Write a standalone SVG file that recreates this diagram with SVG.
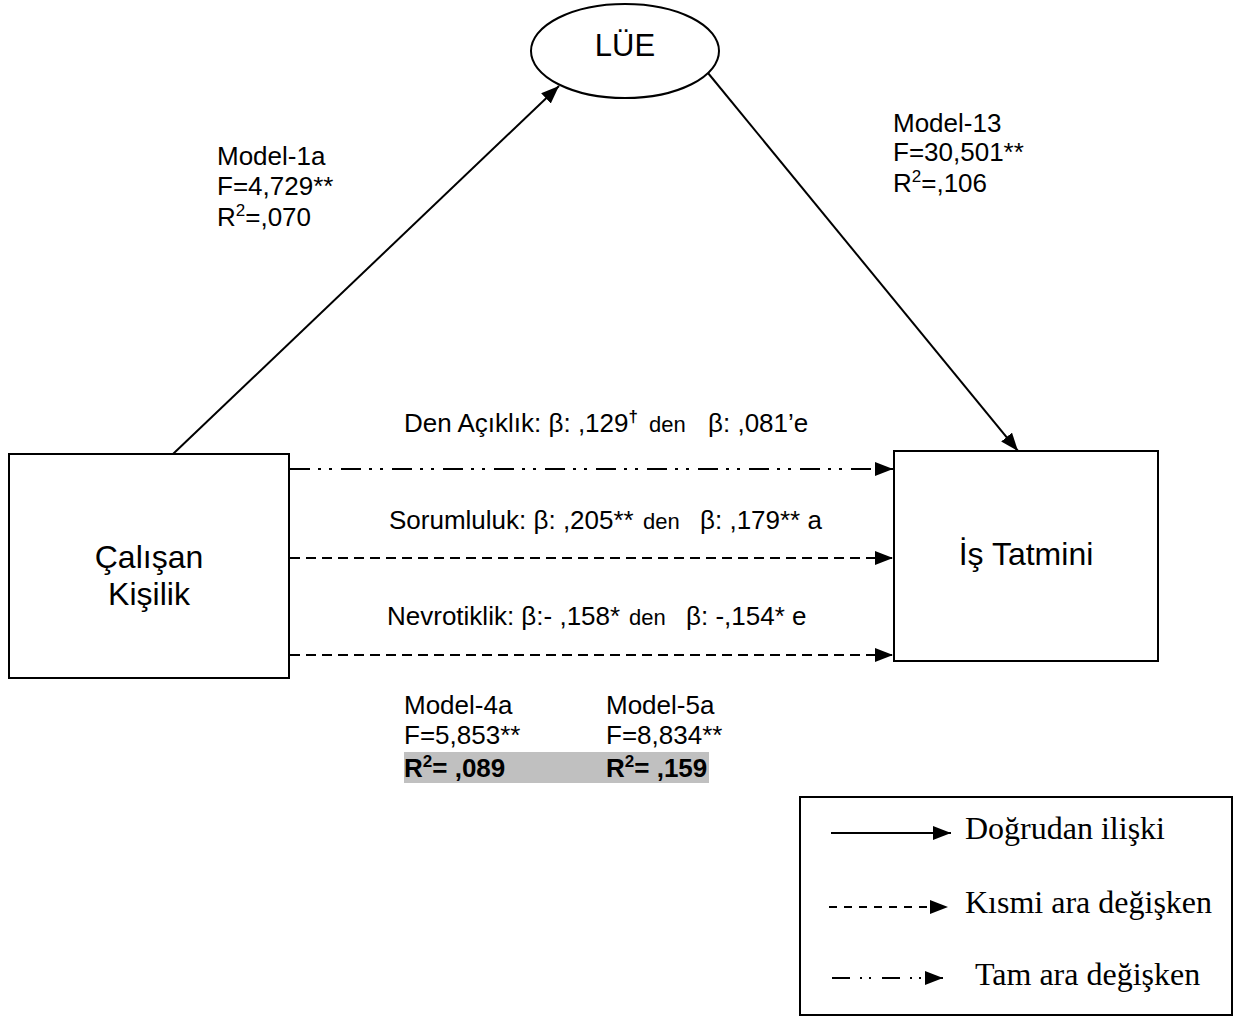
<svg xmlns="http://www.w3.org/2000/svg" width="1236" height="1017" viewBox="0 0 1236 1017">
  <style>
    .sans { font-family: "Liberation Sans", Arial, sans-serif; fill: #000; }
    .serif { font-family: "Liberation Serif", "Times New Roman", serif; fill: #000; font-size: 32px; }
    .lbl { font-size: 26px; }
    .big { font-size: 32px; }
    .small { font-size: 22px; }
    .sup { font-size: 17px; }
    .box { fill: #fff; stroke: #000; stroke-width: 2; }
    .edge { fill: none; stroke: #000; stroke-width: 2; }
    .dash { stroke-dasharray: 10 6; }
    .legdash { stroke-dasharray: 8 7; }
    .dashdot { stroke-dasharray: 20 8 3 8 3 9; }
    .legdashdot { stroke-dasharray: 18 10 2 7 2 11; }
  </style>
  <defs>
    <marker id="arrow" markerUnits="userSpaceOnUse" markerWidth="18" markerHeight="14" refX="18" refY="7" orient="auto">
      <path d="M0,0 L18,7 L0,14 z" fill="#000"/>
    </marker>
  </defs>

  <rect width="1236" height="1017" fill="#fff"/>

  <!-- connectors -->
  <g id="connectors">
    <line class="edge" x1="173" y1="454" x2="559" y2="86" marker-end="url(#arrow)"/>
    <line class="edge" x1="708" y1="73" x2="1018" y2="451" marker-end="url(#arrow)"/>
    <line class="edge dashdot" x1="290" y1="469" x2="893" y2="469" marker-end="url(#arrow)"/>
    <line class="edge dash" x1="290" y1="558" x2="893" y2="558" marker-end="url(#arrow)"/>
    <line class="edge dash" x1="290" y1="655" x2="893" y2="655" marker-end="url(#arrow)"/>
  </g>

  <!-- nodes -->
  <g id="node-lue">
    <ellipse class="box" cx="625" cy="51" rx="94" ry="47"/>
    <text class="sans" x="625" y="56" font-size="31" text-anchor="middle">LÜE</text>
  </g>

  <g id="node-calisan">
    <rect class="box" x="9" y="454" width="280" height="224"/>
    <text class="sans big" x="149" y="568" text-anchor="middle">Çalışan</text>
    <text class="sans big" x="149" y="605" text-anchor="middle">Kişilik</text>
  </g>

  <g id="node-tatmin">
    <rect class="box" x="894" y="451" width="264" height="210"/>
    <text class="sans big" x="1026" y="565" text-anchor="middle">İş Tatmini</text>
  </g>

  <!-- path statistics -->
  <g id="stats-model1a" class="sans lbl">
    <text x="217" y="165">Model-1a</text>
    <text x="217" y="195">F=4,729**</text>
    <text x="217" y="226">R<tspan class="sup" dy="-10">2</tspan><tspan dy="10">=,070</tspan></text>
  </g>

  <g id="stats-model13" class="sans lbl">
    <text x="893" y="132">Model-13</text>
    <text x="893" y="161">F=30,501**</text>
    <text x="893" y="192">R<tspan class="sup" dy="-10">2</tspan><tspan dy="10">=,106</tspan></text>
  </g>

  <g id="mediation-labels" class="sans lbl">
    <text x="404" y="432">Den Açıklık: β: ,129<tspan class="sup" font-weight="bold" dy="-10">†</tspan></text>
    <text class="small" x="649" y="432">den</text>
    <text x="708" y="432">β: ,081’e</text>

    <text x="389" y="529">Sorumluluk: β: ,205**</text>
    <text class="small" x="643" y="529">den</text>
    <text x="700" y="529">β: ,179** a</text>

    <text x="387" y="625">Nevrotiklik: β:- ,158*</text>
    <text class="small" x="629" y="625">den</text>
    <text x="686" y="625">β: -,154* e</text>
  </g>

  <g id="stats-model4a-5a" class="sans lbl">
    <rect x="404" y="752" width="305" height="31" fill="#c0c0c0"/>
    <text x="404" y="714">Model-4a</text>
    <text x="404" y="744">F=5,853**</text>
    <text x="404" y="777" font-weight="bold">R<tspan class="sup" dy="-10">2</tspan><tspan dy="10">= ,089</tspan></text>
    <text x="606" y="714">Model-5a</text>
    <text x="606" y="744">F=8,834**</text>
    <text x="606" y="777" font-weight="bold">R<tspan class="sup" dy="-10">2</tspan><tspan dy="10">= ,159</tspan></text>
  </g>

  <!-- legend -->
  <g id="legend">
    <rect class="box" x="800" y="797" width="432" height="218"/>
    <line class="edge" x1="831" y1="833" x2="951" y2="833" marker-end="url(#arrow)"/>
    <line class="edge legdash" x1="829" y1="907" x2="948" y2="907" marker-end="url(#arrow)"/>
    <line class="edge legdashdot" x1="832" y1="978" x2="943" y2="978" marker-end="url(#arrow)"/>
    <text class="serif" x="965" y="839">Doğrudan ilişki</text>
    <text class="serif" x="965" y="913">Kısmi ara değişken</text>
    <text class="serif" x="975" y="985">Tam ara değişken</text>
  </g>
</svg>
